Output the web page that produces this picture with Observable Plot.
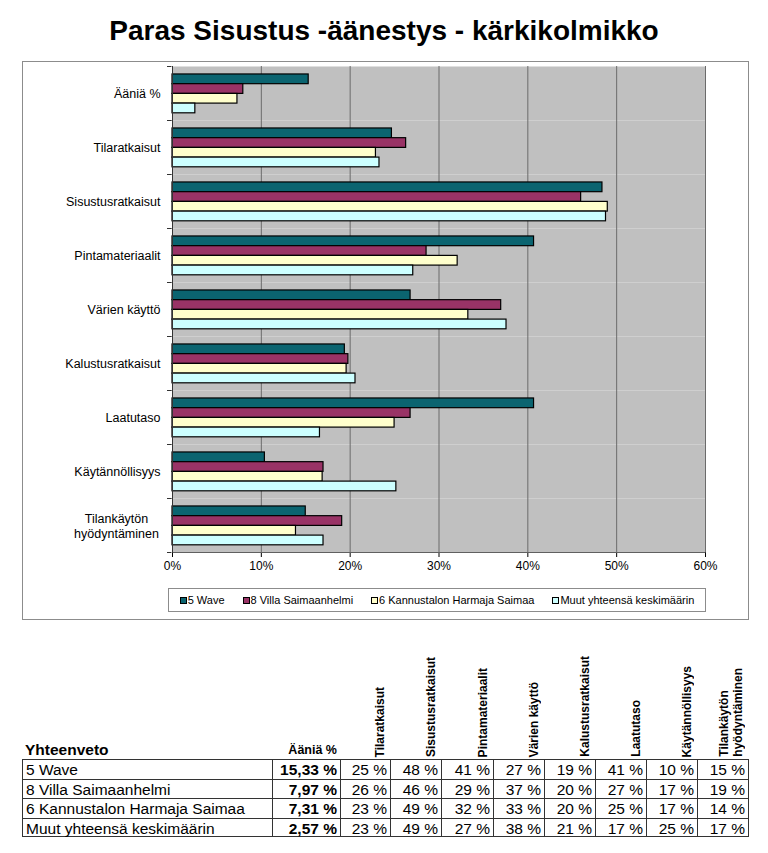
<!DOCTYPE html>
<html>
<head>
<meta charset="utf-8">
<script src="https://cdn.jsdelivr.net/npm/d3@7"></script>
<script src="https://cdn.jsdelivr.net/npm/@observablehq/plot@0.6"></script>
<style>
html, body { margin: 0; padding: 0; background: #fff; overflow: hidden; }
body { width: 768px; height: 853px; position: relative; font-family: "Liberation Sans", Arial, sans-serif; color: #000; }
#title { position: absolute; left: 0; top: 15px; width: 768px; text-align: center; font-weight: bold; font-size: 28px; line-height: 32px; }
#chart { position: absolute; left: 0; top: 60px; }
#box { position: absolute; left: 22px; top: 61px; width: 725px; height: 557px; border: 1px solid #8c8c8c; pointer-events: none; }
#legend { position: absolute; left: 168px; top: 588px; width: 536px; height: 22px; border: 1px solid #8c8c8c; display: flex; align-items: center; justify-content: center; gap: 18px; font-size: 11px; }
.li { display: flex; align-items: center; white-space: nowrap; }
.sw { width: 5px; height: 5px; border: 1px solid #000; margin-right: 1px; }
.cell { position: absolute; box-sizing: border-box; font-size: 15.5px; line-height: 19px; white-space: nowrap; }
.hl { position: absolute; font-weight: bold; font-size: 12px; line-height: 14px; writing-mode: vertical-rl; transform: rotate(180deg); white-space: nowrap; }
</style>
</head>
<body>
<div id="title">Paras Sisustus -äänestys - kärkikolmikko</div>
<div id="chart"></div>
<div id="box"></div>
<div id="legend"></div>
<div id="table"></div>
<script>
// ---- data ----
const categories = ["Ääniä %", "Tilaratkaisut", "Sisustusratkaisut", "Pintamateriaalit", "Värien käyttö", "Kalustusratkaisut", "Laatutaso", "Käytännöllisyys", "Tilankäytön\nhyödyntäminen"];
const series = ["5 Wave", "8 Villa Saimaanhelmi", "6 Kannustalon Harmaja Saimaa", "Muut yhteensä keskimäärin"];
const wave   = [15.33, 24.7, 48.4, 40.7, 26.8, 19.4, 40.7, 10.4, 15.0];
const villa  = [7.97, 26.3, 46.0, 28.6, 37.0, 19.8, 26.8, 17.0, 19.1];
const kannus = [7.31, 22.9, 49.0, 32.1, 33.3, 19.6, 25.0, 16.9, 13.9];
const muut   = [2.57, 23.3, 48.8, 27.1, 37.6, 20.6, 16.6, 25.2, 17.0];
const xTicks = [0, 10, 20, 30, 40, 50, 60];
const tableTitle = "Yhteenveto";
const colors = ["#0b6470", "#993366", "#ffffcc", "#ccffff"];

const seriesValues = [wave, villa, kannus, muut];
const rows = [];
series.forEach((s, si) => categories.forEach((c, ci) => rows.push({series: s, si, category: c, value: seriesValues[si][ci]})));

// ---- chart ----
const yDomain = [-0.82, 4.74];
const singleLine = categories.filter(c => !c.includes("\n"));
const multiLine = categories.filter(c => c.includes("\n"));
const chart = Plot.plot({
  width: 768, height: 520,
  marginTop: 5, marginBottom: 27, marginLeft: 172, marginRight: 63,
  style: {background: "transparent", fontFamily: "Liberation Sans, Arial, sans-serif", fontSize: "12px", color: "#000"},
  x: {domain: [0, 60], ticks: xTicks, tickFormat: d => d + "%", label: null, tickSize: 5, tickPadding: 4, line: true},
  y: {domain: yDomain, reverse: true, axis: null},
  fy: {domain: categories, padding: 0, label: null, axis: null},
  color: {domain: series, range: colors},
  marks: [
    Plot.frame({fill: "#c0c0c0"}),
    Plot.ruleX(xTicks.slice(1), {stroke: "#6b6b6b", strokeWidth: 1}),
    Plot.rect(rows, {fy: "category", x1: 0, x2: "value", y1: "si", y2: d => d.si + 1, fill: "series", stroke: "#000", strokeWidth: 1.2}),
    Plot.ruleX([0], {stroke: "#333"}),
    Plot.ruleY(yDomain, {x1: 0, x2: 0.5, dx: -5, stroke: "#333"}),
    Plot.text(singleLine, {fy: d => d, text: d => d, frameAnchor: "left", textAnchor: "end", dx: -12, fontSize: 12.5, fill: "#000"}),
    Plot.text(multiLine, {fy: d => d, text: d => d, frameAnchor: "left", textAnchor: "middle", dx: -56, fontSize: 12.5, lineHeight: 1.2, fill: "#000"})
  ]
});
document.getElementById("chart").appendChild(chart);

// ---- legend ----
const legend = document.getElementById("legend");
series.forEach((s, i) => {
  const it = document.createElement("div");
  it.className = "li";
  const sw = document.createElement("div");
  sw.className = "sw";
  sw.style.background = colors[i];
  it.appendChild(sw);
  it.appendChild(document.createTextNode(s));
  legend.appendChild(it);
});

// ---- table ----
const table = document.getElementById("table");
const colEdges = [22, 272, 340, 390, 441, 493, 544, 595, 646, 697, 748];
const rowTop = 759, rowH = 19.5;
function add(cls, text, css) {
  const d = document.createElement("div");
  d.className = cls;
  d.textContent = text;
  Object.assign(d.style, css);
  table.appendChild(d);
  return d;
}
add("cell", tableTitle, {left: "25px", top: "740px", fontWeight: "bold", fontSize: "15.5px"});
add("cell", categories[0], {left: colEdges[1] + "px", width: (colEdges[2] - colEdges[1]) + "px", top: "741px", textAlign: "right", paddingRight: "3px", fontWeight: "bold", fontSize: "12.5px"});
categories.slice(1).forEach((c, i) => {
  const right = colEdges[i + 3];
  const d = document.createElement("div");
  d.className = "hl";
  d.innerHTML = c.split("\n").join("<br>");
  table.appendChild(d);
  const w = d.getBoundingClientRect().width;
  d.style.left = (right - 3 - w) + "px";
  d.style.top = (757 - d.getBoundingClientRect().height) + "px";
});
series.forEach((s, si) => {
  const top = rowTop + si * rowH;
  add("cell", s, {left: colEdges[0] + "px", top: top + "px", width: (colEdges[1] - colEdges[0]) + "px", height: rowH + "px", paddingLeft: "3px", borderLeft: "1px solid #333", borderTop: "1px solid #333", borderBottom: si === series.length - 1 ? "1px solid #333" : "none"});
  seriesValues[si].forEach((v, ci) => {
    const txt = ci === 0 ? v.toFixed(2).replace(".", ",") + " %" : Math.round(v) + " %";
    add("cell", txt, {left: colEdges[ci + 1] + "px", top: top + "px", width: (colEdges[ci + 2] - colEdges[ci + 1] + 1) + "px", height: rowH + "px", textAlign: "right", paddingRight: "3px", fontWeight: ci === 0 ? "bold" : "normal", borderLeft: "1px solid #333", borderRight: "1px solid #333", borderTop: "1px solid #333", borderBottom: si === series.length - 1 ? "1px solid #333" : "none"});
  });
});
</script>
</body>
</html>
